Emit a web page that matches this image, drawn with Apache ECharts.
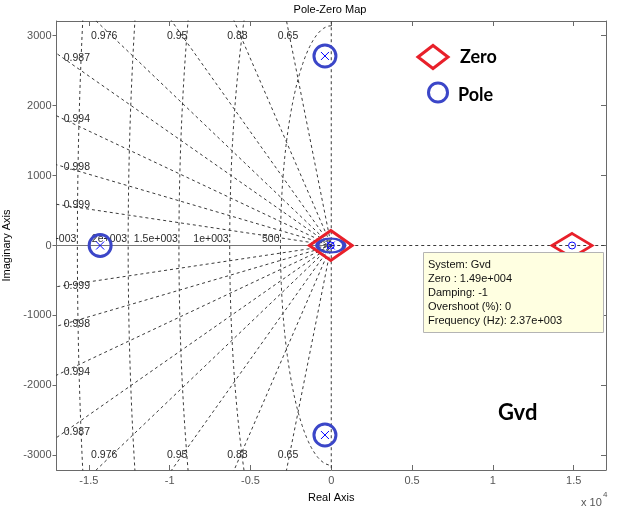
<!DOCTYPE html>
<html><head><meta charset="utf-8">
<script src="https://cdn.jsdelivr.net/npm/echarts@6/dist/echarts.min.js"></script>
<style>html,body{margin:0;padding:0;background:#fff}#c{width:622px;height:521px}</style>
</head><body><div id="c"></div>
<script>
// axis ranges and ticks
const xMin = -17000, xMax = 17000, yMin = -3210, yMax = 3210;
const xTicks = [-15000, -10000, -5000, 0, 5000, 10000, 15000];
const xTickLabels = ['-1.5', '-1', '-0.5', '0', '0.5', '1', '1.5'];
const yTicks = [-3000, -2000, -1000, 0, 1000, 2000, 3000];
const yTickLabels = ['-3000', '-2000', '-1000', '0', '1000', '2000', '3000'];
// s-plane grid: damping rays and natural-frequency arcs
const dampingValues = [0.9994, 0.9977, 0.9941, 0.9872, 0.9765, 0.951, 0.882, 0.653, 0];
const dampingLabels = ['0.999', '0.998', '0.994', '0.987', '0.976', '0.95', '0.88', '0.65', ''];
const freqHz = [500, 1000, 1500, 2000, 2500];
const freqLabels = ['500', '1e+003', '1.5e+003', '2e+003', '2.5e+003'];
// poles and zeros of Gvd
const polesRe = [-390, -390, -14300, -30];
const polesIm = [2710, -2710, 0, 0];
const zerosRe = [14900, -30];
const zerosIm = [0, 0];
// data tip
const tipLines = ['System: Gvd', 'Zero : 1.49e+004', 'Damping: -1', 'Overshoot (%): 0', 'Frequency (Hz): 2.37e+003'];

const GRID = '#3a3a3a';
const AX = '#6a6a6a';
const RED = '#e8202a';
const BLUE = '#3b46c8';
const FONT = '"Liberation Sans", Arial, sans-serif';

const chart = echarts.init(document.getElementById('c'), null, {renderer: 'canvas'});

const series = [];
const R = 60000;
dampingValues.forEach((z) => {
  const s = Math.sqrt(1 - z * z);
  series.push({
    type: 'line', silent: true, symbol: 'none', animation: false, z: 1,
    lineStyle: {color: GRID, width: 1, type: [3, 3]},
    data: [[-R * z, R * s], [0, 0], [-R * z, -R * s]]
  });
});
freqHz.forEach((f) => {
  const w = 2 * Math.PI * f;
  const pts = [];
  for (let a = 90; a <= 270; a += 1) {
    const t = a * Math.PI / 180;
    pts.push([w * Math.cos(t), w * Math.sin(t)]);
  }
  series.push({
    type: 'line', silent: true, symbol: 'none', animation: false, z: 1,
    lineStyle: {color: GRID, width: 1, type: [3, 3]},
    data: pts
  });
});
// real axis: solid on the left, dashed on the right
series.push({type: 'line', silent: true, symbol: 'none', animation: false, z: 1,
  lineStyle: {color: '#777', width: 1}, data: [[xMin, 0], [0, 0]]});
series.push({type: 'line', silent: true, symbol: 'none', animation: false, z: 1,
  lineStyle: {color: GRID, width: 1, type: [3, 3]}, data: [[0, 0], [xMax, 0]]});

// grid labels
const labelItems = [];
dampingValues.forEach((z, i) => {
  if (!dampingLabels[i]) return;
  const s = Math.sqrt(1 - z * z) / z;
  if (i < 4) {
    const x = -16550;
    labelItems.push({x: x, y: -x * s, text: dampingLabels[i], align: 'left', va: 'middle', dx: 0, dy: 0});
    labelItems.push({x: x, y: x * s, text: dampingLabels[i], align: 'left', va: 'middle', dx: 0, dy: 0});
  } else {
    const x = -3100 / s;
    labelItems.push({x: x, y: 3000, text: dampingLabels[i], align: 'center', va: 'middle', dx: 0, dy: 0});
    labelItems.push({x: x, y: -3000, text: dampingLabels[i], align: 'center', va: 'middle', dx: 0, dy: 0});
  }
});
freqHz.forEach((f, i) => {
  labelItems.push({x: -2 * Math.PI * f, y: 0, text: freqLabels[i], align: 'right', va: 'bottom', dx: -1, dy: -1});
});
series.push({
  type: 'custom', clip: true, silent: true, animation: false, z: 3,
  data: labelItems.map((it) => [it.x, it.y]),
  renderItem: (params, api) => {
    const it = labelItems[params.dataIndex];
    const p = api.coord([it.x, it.y]);
    return {type: 'text', x: p[0] + it.dx, y: p[1] + it.dy,
      style: {text: it.text, align: it.align, verticalAlign: it.va, font: '10.5px ' + FONT, fill: '#2a2a2a'}};
  }
});

// annotation rings around poles and diamonds around zeros
series.push({
  type: 'scatter', silent: true, animation: false, z: 5,
  symbol: 'circle', symbolSize: 22,
  itemStyle: {color: 'transparent', borderColor: BLUE, borderWidth: 3, opacity: 1},
  data: polesRe.slice(0, 3).map((x, i) => [x, polesIm[i]])
});
series.push({
  type: 'scatter', silent: true, animation: false, z: 5,
  symbol: 'path://M0,7A13.5,7,0,1,0,27,7A13.5,7,0,1,0,0,7Z', symbolSize: [27, 14],
  itemStyle: {color: 'transparent', borderColor: BLUE, borderWidth: 3, opacity: 1},
  data: [[polesRe[3], polesIm[3]]]
});
series.push({
  type: 'scatter', silent: true, animation: false, z: 5,
  symbol: 'diamond',
  itemStyle: {color: 'transparent', borderColor: RED, borderWidth: 3, opacity: 1},
  data: [
    {value: [zerosRe[0], zerosIm[0]], symbolSize: [40, 24]},
    {value: [zerosRe[1], zerosIm[1]], symbolSize: [43, 30]}
  ]
});
// MATLAB markers
series.push({
  type: 'scatter', silent: true, animation: false, z: 6,
  symbol: 'path://M0,0L10,10M10,0L0,10', symbolSize: 8,
  itemStyle: {color: 'transparent', borderColor: '#0000ff', borderWidth: 1, opacity: 1},
  data: polesRe.map((x, i) => [x, polesIm[i]])
});
series.push({
  type: 'scatter', silent: true, animation: false, z: 6,
  symbol: 'circle', symbolSize: 7,
  itemStyle: {color: 'transparent', borderColor: '#0000ff', borderWidth: 1, opacity: 1},
  data: zerosRe.map((x, i) => [x, zerosIm[i]])
});

const tickLabel = (vals, labs) => (v) => {
  const k = vals.indexOf(Math.round(v));
  return k >= 0 ? labs[k] : '';
};

chart.setOption({
  animation: false,
  grid: {left: 56.5, right: 16, top: 21, bottom: 51, containLabel: false, outerBoundsMode: 'none'},
  xAxis: [{
    type: 'value', min: xMin, max: xMax, position: 'bottom',
    axisLine: {onZero: false, lineStyle: {color: AX, width: 1}},
    axisTick: {show: true, inside: true, length: 5, customValues: xTicks, lineStyle: {color: AX}},
    axisLabel: {customValues: xTicks, formatter: tickLabel(xTicks, xTickLabels), color: '#555', fontSize: 11, fontFamily: FONT, margin: 5},
    splitLine: {show: false},
    name: 'Real Axis', nameLocation: 'middle', nameGap: 22,
    nameTextStyle: {color: '#000', fontSize: 11, fontFamily: FONT}
  }, {
    type: 'value', min: xMin, max: xMax, position: 'top',
    axisLine: {onZero: false, lineStyle: {color: AX, width: 1}},
    axisTick: {show: true, inside: true, length: 5, customValues: xTicks, lineStyle: {color: AX}},
    axisLabel: {show: false}, splitLine: {show: false}
  }],
  yAxis: [{
    type: 'value', min: yMin, max: yMax, position: 'left',
    axisLine: {onZero: false, show: true, lineStyle: {color: AX, width: 1}},
    axisTick: {show: true, inside: false, length: 4, customValues: yTicks, lineStyle: {color: AX}},
    axisLabel: {customValues: yTicks, formatter: tickLabel(yTicks, yTickLabels), color: '#555', fontSize: 11, fontFamily: FONT, margin: 5},
    splitLine: {show: false},
    name: 'Imaginary Axis', nameLocation: 'middle', nameGap: 39,
    nameTextStyle: {color: '#000', fontSize: 11, fontFamily: FONT}
  }, {
    type: 'value', min: yMin, max: yMax, position: 'right',
    axisLine: {onZero: false, show: true, lineStyle: {color: AX, width: 1}},
    axisTick: {show: true, inside: true, length: 5, customValues: yTicks, lineStyle: {color: AX}},
    axisLabel: {show: false}, splitLine: {show: false}
  }],
  series: series
});

const zp = chart.convertToPixel({xAxisIndex: 0, yAxisIndex: 0}, [zerosRe[0], zerosIm[0]]);
const bx = Math.round(zp[0]) - 148.5, by = Math.round(zp[1]) + 6.5;

chart.setOption({
  graphic: [
    {type: 'text', x: 330, y: 10, z: 10, style: {text: 'Pole-Zero Map', align: 'center', verticalAlign: 'middle', font: '11px ' + FONT, fill: '#000'}},
    {type: 'text', x: 581, y: 503, z: 10, style: {text: 'x 10', align: 'left', verticalAlign: 'middle', font: '11px ' + FONT, fill: '#555'}},
    {type: 'text', x: 603, y: 495, z: 10, style: {text: '4', align: 'left', verticalAlign: 'middle', font: '8px ' + FONT, fill: '#555'}},
    // hand-drawn legend
    {type: 'polygon', z: 10, shape: {points: [[418, 57], [433, 45.5], [448, 57], [433, 68.5]]}, style: {fill: 'none', stroke: RED, lineWidth: 3}},
    {type: 'text', x: 460, y: 57, z: 10, style: {text: 'Zero', align: 'left', verticalAlign: 'middle', font: 'bold 18px Lato, "Open Sans", sans-serif', fill: '#000'}},
    {type: 'circle', z: 10, shape: {cx: 438, cy: 92.5, r: 9.5}, style: {fill: 'none', stroke: BLUE, lineWidth: 3}},
    {type: 'text', x: 458, y: 95, z: 10, style: {text: 'Pole', align: 'left', verticalAlign: 'middle', font: 'bold 18px Lato, "Open Sans", sans-serif', fill: '#000'}},
    {type: 'text', x: 498, y: 413, z: 10, style: {text: 'Gvd', align: 'left', verticalAlign: 'middle', font: 'bold 22px Lato, "Open Sans", sans-serif', fill: '#000'}},
    // data tip
    {type: 'rect', z: 20, shape: {x: bx, y: by, width: 180, height: 80}, style: {fill: '#ffffe1', stroke: '#b4b4b4', lineWidth: 1}},
    {type: 'text', z: 21, x: bx + 4.5, y: by + 5, style: {text: tipLines.join('\n'), align: 'left', verticalAlign: 'top', lineHeight: 14, font: '11px ' + FONT, fill: '#111'}}
  ]
});
</script>
</body></html>
